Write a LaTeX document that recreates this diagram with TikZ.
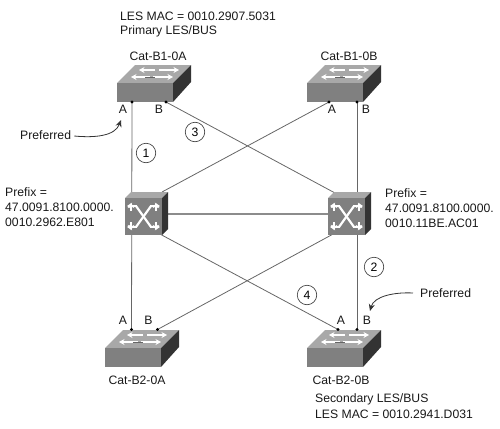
\documentclass[tikz,border=0pt]{standalone}
\usepackage{fontspec}
\setmainfont{Liberation Sans}
\usetikzlibrary{arrows.meta}
\definecolor{swtop}{gray}{0.66}
\definecolor{swfront}{gray}{0.50}
\definecolor{swside}{gray}{0.20}
\tikzset{
  lab/.style={font=\fontsize{12.2}{14}\selectfont,inner sep=0pt,align=left,text=black!90},
  conn/.style={draw=black!60,line width=0.8pt},
  trunk/.style={draw=black!45,line width=1.2pt},
  dot/.style={circle,fill=black,inner sep=0pt,minimum size=3.4pt},
  num/.style={circle,draw=black!80,line width=0.6pt,fill=white,minimum size=19.5pt,inner sep=0pt,font=\fontsize{12.2}{14}\selectfont},
  bent/.style={draw=black!80,line width=0.8pt,-{Stealth[length=7pt,width=6pt]}},
  wflat/.style={white,line width=1.7pt,-{Stealth[length=5.5pt,width=6pt]}},
  dline/.style={black!60,line width=0.8pt},
  xarrow/.style={white,line width=1.8pt,-{Stealth[length=5pt,width=6.5pt]}},
  pics/wgswitch/.style={code={
    \fill[swtop] (0,0)--(18,-18)--(74,-18)--(56,0)--cycle;
    \fill[swfront] (0,0) rectangle (56,19);
    \fill[swside] (56,0)--(74,-18)--(74,-1)--(56,19)--cycle;
    \draw[wflat] (38,-13)--(22,-13);
    \draw[wflat] (42,-13)--(62,-13);
    \draw[wflat] (33,-6)--(14,-6);
    \draw[wflat] (36,-6)--(56,-6);
    \draw[dline] (28,-6)--(38,-6);
  }},
  pics/atmswitch/.style={code={
    \fill[swtop] (0,0)--(6,-6)--(43,-6)--(37,0)--cycle;
    \fill[swfront] (0,0) rectangle (37,37);
    \fill[swside] (37,0)--(43,-6)--(43,31)--(37,37)--cycle;
    \draw[white,line width=2.2pt] (11,8)--(26,29);
    \draw[white,line width=2.2pt] (26,8)--(11,29);
    \draw[xarrow] (12,8)--(2,8);
    \draw[xarrow] (25,8)--(35,8);
    \draw[xarrow] (12,29)--(2,29);
    \draw[xarrow] (25,29)--(35,29);
    \draw[xarrow] (6,13)--(6,5);
    \draw[xarrow] (31,13)--(31,5);
    \draw[xarrow] (6,24)--(6,32);
    \draw[xarrow] (31,24)--(31,32);
  }},
}
\begin{document}
\begin{tikzpicture}[x=1pt,y=-1pt]
\useasboundingbox (0,0) rectangle (500,428);
% port and switch anchors
\coordinate (aA) at (132,102); \coordinate (aB) at (166,102);
\coordinate (bA) at (329,102); \coordinate (bB) at (357,102);
\coordinate (cA) at (131.5,329.5); \coordinate (cB) at (157.5,329.5);
\coordinate (dA) at (338,329.5); \coordinate (dB) at (357,329.5);
\coordinate (lup) at (162,192); \coordinate (rup) at (335,193);
\coordinate (llo) at (158,233); \coordinate (rlo) at (335,233);
\coordinate (ltr) at (150,214); \coordinate (rtr) at (340,214);
% connectors
\draw[conn] (aA)--(cA);
\draw[conn] (bB)--(dB);
\draw[conn] (aB)--(rup);
\draw[conn] (bA)--(lup);
\draw[conn] (llo)--(dA);
\draw[conn] (rlo)--(cB);
\draw[trunk] (ltr)--(rtr);
% switches
\pic at (117,83) {wgswitch};
\pic at (307,83) {wgswitch};
\pic at (105,348) {wgswitch};
\pic at (307,348) {wgswitch};
\pic at (125,198) {atmswitch};
\pic at (328,198) {atmswitch};
% dots
\foreach \p in {aA,aB,bA,bB,cA,cB,dA,dB} \node[dot] (dot\p) at (\p) {};
% text
\node[lab,anchor=west] (t1) at (120,16) {LES MAC = 0010.2907.5031};
\node[lab,anchor=west] (t2) at (120,31) {Primary LES/BUS};
\node[lab] (n1) at (158,56) {Cat-B1-0A};
\node[lab] (n2) at (349,56) {Cat-B1-0B};
\node[lab] (n3) at (137,380) {Cat-B2-0A};
\node[lab] (n4) at (341,380) {Cat-B2-0B};
\node[lab,anchor=west] (t3) at (315,399) {Secondary LES/BUS};
\node[lab,anchor=west] (t4) at (315,414) {LES MAC = 0010.2941.D031};
\node[lab,anchor=west] (p1) at (5,192) {Prefix =};
\node[lab,anchor=west] (p2) at (5,207) {47.0091.8100.0000.};
\node[lab,anchor=west] (p3) at (5,222) {0010.2962.E801};
\node[lab,anchor=west] (p4) at (385,193) {Prefix =};
\node[lab,anchor=west] (p5) at (385,208) {47.0091.8100.0000.};
\node[lab,anchor=west] (p6) at (385,223) {0010.11BE.AC01};
\node[lab] (la1) at (123,109) {A};
\node[lab] (lb1) at (159,109) {B};
\node[lab] (la2) at (332,109) {A};
\node[lab] (lb2) at (366,109) {B};
\node[lab] (la3) at (123,320) {A};
\node[lab] (lb3) at (148.5,320) {B};
\node[lab] (la4) at (341,320) {A};
\node[lab] (lb4) at (367,320) {B};
\node[num] (c1) at (146,153) {1};
\node[num] (c3) at (195,132) {3};
\node[num] (c2) at (374,267) {2};
\node[num] (c4) at (307,295) {4};
\node[lab,anchor=west] (pr1) at (20,135) {Preferred};
\node[lab,anchor=west] (pr2) at (420,293) {Preferred};
\draw[bent] (pr1.east)++(3,1) .. controls (95,138) and (115,136) .. (121,120);
\draw[bent] (pr2.west)++(-7,0) .. controls (395,292) and (374,296) .. (370,311);
\end{tikzpicture}
\end{document}
